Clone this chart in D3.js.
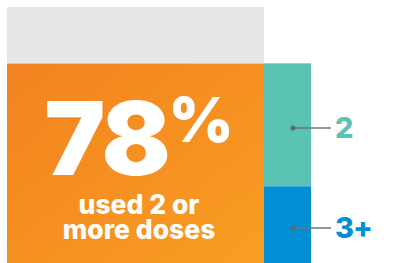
<!DOCTYPE html>
<html>
<head>
<meta charset="utf-8">
<script src="https://cdn.jsdelivr.net/npm/d3@7"></script>
<style>
  html, body { margin: 0; padding: 0; background: #fff; }
  svg { display: block; }
</style>
</head>
<body>
<div id="chart"></div>
<script>
// share of respondents (whole bar = 100%)
const mainLabels = ['used 2 or more doses', 'other'];
const mainValues = [78, 22];
// breakdown of the 78%
const doseLabels = ['2', '3+'];
const doseValues = [48, 30];

const width = 408;
const height = 263;

const svg = d3.select('#chart')
    .append('svg')
    .attr('width', width)
    .attr('height', height)
    .attr('viewBox', [0, 0, width, height]);

const y = d3.scaleLinear()
    .domain([0, 100])
    .range([height, 7]);

const x = d3.scaleOrdinal()
    .domain(['main', 'doses'])
    .range([7, 264]);
const colWidth = { main: 257, doses: 47 };

const defs = svg.append('defs');
const grad = defs.append('linearGradient')
    .attr('id', 'orange')
    .attr('x1', '0%').attr('y1', '0%')
    .attr('x2', '100%').attr('y2', '100%');
grad.append('stop').attr('offset', '0%').attr('stop-color', '#f38220');
grad.append('stop').attr('offset', '100%').attr('stop-color', '#f89e22');

// main column: stacked from the bottom
const mainFill = ['url(#orange)', '#e7e7e9'];
let acc = 0;
const mainSegs = mainValues.map((v, i) => {
    const s = { label: mainLabels[i], y0: acc, y1: acc + v, fill: mainFill[i] };
    acc += v;
    return s;
});

svg.append('g')
    .selectAll('rect')
    .data(mainSegs)
    .join('rect')
        .attr('x', x('main'))
        .attr('y', d => y(d.y1))
        .attr('width', colWidth.main)
        .attr('height', d => y(d.y0) - y(d.y1))
        .attr('fill', d => d.fill);

// dose breakdown column (3+ at the bottom, 2 above)
const doseColors = ['#5bc3b4', '#008fd5'];
acc = 0;
const doseSegs = doseValues.map((v, i) => ({ label: doseLabels[i], value: v, color: doseColors[i] }))
    .reverse()
    .map(d => {
        const s = Object.assign({}, d, { y0: acc, y1: acc + d.value });
        acc += d.value;
        return s;
    });

svg.append('g')
    .selectAll('rect')
    .data(doseSegs)
    .join('rect')
        .attr('x', x('doses'))
        .attr('y', d => y(d.y1))
        .attr('width', colWidth.doses)
        .attr('height', d => y(d.y0) - y(d.y1))
        .attr('fill', d => d.color);

// leader lines + labels
const ann = svg.append('g')
    .selectAll('g')
    .data(doseSegs)
    .join('g')
        .attr('transform', d => `translate(0, ${d.label === '2' ? 128 : 228})`);

ann.append('line')
    .attr('x1', 293).attr('x2', 331)
    .attr('stroke', '#6b7480')
    .attr('stroke-width', 1.5);
ann.append('circle')
    .attr('cx', 293)
    .attr('r', 2.5)
    .attr('fill', '#5f6670');
ann.append('text')
    .attr('x', 335)
    .attr('dy', '0.36em')
    .attr('font-family', 'Inter, sans-serif')
    .attr('font-weight', 800)
    .attr('font-size', 29)
    .attr('letter-spacing', -1)
    .attr('fill', d => d.color)
    .text(d => d.label);

// big number + caption inside the orange segment, one text block
const cx = 139;
const block = svg.append('text')
    .attr('text-anchor', 'middle')
    .attr('font-family', 'Inter, sans-serif')
    .attr('fill', '#fff');
block.append('tspan')
    .attr('x', cx)
    .attr('y', 175)
    .attr('font-weight', 900)
    .attr('font-size', 102)
    .attr('letter-spacing', -2)
    .text(mainValues[0]);
block.append('tspan')
    .attr('font-weight', 900)
    .attr('font-size', 62)
    .attr('dy', -33)
    .text('%');
block.append('tspan')
    .attr('x', cx)
    .attr('y', 214)
    .attr('font-weight', 800)
    .attr('font-size', 26.5)
    .text('used 2 or');
block.append('tspan')
    .attr('x', cx)
    .attr('y', 239)
    .attr('font-weight', 800)
    .attr('font-size', 26.5)
    .text('more doses');
</script>
</body>
</html>
